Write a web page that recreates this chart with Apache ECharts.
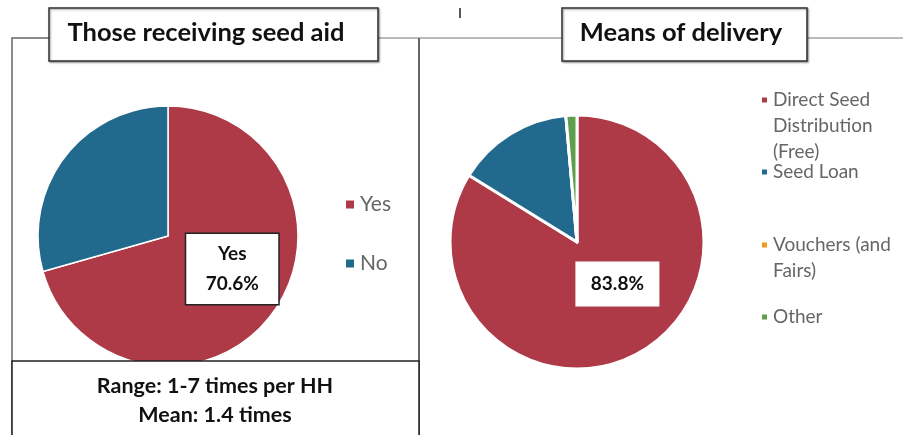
<!DOCTYPE html>
<html>
<head>
<meta charset="utf-8">
<script src="https://cdn.jsdelivr.net/npm/echarts@6/dist/echarts.min.js"></script>
<style>
  html, body { margin: 0; padding: 0; background: #fff; }
  #chart { width: 903px; height: 435px; }
</style>
</head>
<body>
<div id="chart"></div>
<script>
  // data
  const aidNames = ["Yes", "No"];
  const aidValues = [70.6, 29.4];
  const deliveryNames = ["Direct Seed Distribution (Free)", "Seed Loan", "Vouchers (and Fairs)", "Other"];
  const deliveryValues = [83.8, 14.8, 0, 1.4];
  const rangeText = ["Range: 1-7 times per HH", "Mean: 1.4 times"];

  const RED = "#AD3A46";
  const BLUE = "#216A8D";
  const ORANGE = "#F39A1E";
  const GREEN = "#5E9E4E";
  const FONT = "Lato, 'DejaVu Sans', sans-serif";

  const chart = echarts.init(document.getElementById("chart"));

  // legend label lines for the right pie
  const deliveryLabels = {
    "Direct Seed Distribution (Free)": "Direct Seed\nDistribution\n(Free)",
    "Seed Loan": "Seed Loan",
    "Vouchers (and Fairs)": "Vouchers (and\nFairs)",
    "Other": "Other",
  };
  // y of each legend square (centre)
  const rightLegendY = [100, 172, 245, 317];
  const LH = 26;

  // legend text is centred on the square, so pad with blank lines above
  // to keep the square on the first line
  const rightLegends = deliveryNames.map((n, i) => {
    const lines = deliveryLabels[n].split("\n").length;
    const total = lines * 2 - 1;
    return {
      data: [n],
      left: 760,
      top: rightLegendY[i] - (total * LH) / 2,
      icon: "rect",
      itemWidth: 7,
      itemHeight: 7,
      itemGap: 0,
      padding: 0,
      selectedMode: false,
      formatter: (name) => "\n".repeat(lines - 1) + deliveryLabels[name],
      textStyle: {
        fontFamily: FONT,
        fontSize: 19,
        color: "#666",
        lineHeight: LH,
      },
    };
  });

  const graphics = [
    // frame lines
    { type: "polyline", shape: { points: [[12, 440], [12, 38], [49, 38]] }, style: { stroke: "#666", lineWidth: 1.5, fill: null }, z: 50 },
    { type: "line", shape: { x1: 378, y1: 38, x2: 562, y2: 38 }, style: { stroke: "#777", lineWidth: 1 }, z: 50 },
    { type: "line", shape: { x1: 807, y1: 38, x2: 903, y2: 38 }, style: { stroke: "#777", lineWidth: 1 }, z: 50 },
    { type: "line", shape: { x1: 419, y1: 38, x2: 419, y2: 440 }, style: { stroke: "#666", lineWidth: 2 }, z: 50 },
    { type: "line", shape: { x1: 460, y1: 8, x2: 460, y2: 18 }, style: { stroke: "#222", lineWidth: 1.5 }, z: 50 },
    // title boxes
    { type: "rect", shape: { x: 49, y: 8, width: 329, height: 53 }, style: { fill: "#fff", stroke: "#333", lineWidth: 1.5, shadowBlur: 2, shadowOffsetX: 1, shadowOffsetY: 1, shadowColor: "rgba(0,0,0,0.4)" }, z: 60 },
    { type: "text", x: 206, y: 33, style: { text: "Those receiving seed aid", fontFamily: FONT, fontWeight: "bold", fontSize: 25.5, fill: "#111", align: "center", verticalAlign: "middle" }, z: 61 },
    { type: "rect", shape: { x: 562, y: 8, width: 245, height: 53 }, style: { fill: "#fff", stroke: "#333", lineWidth: 1.5, shadowBlur: 2, shadowOffsetX: 1, shadowOffsetY: 1, shadowColor: "rgba(0,0,0,0.4)" }, z: 60 },
    { type: "text", x: 681, y: 33, style: { text: "Means of delivery", fontFamily: FONT, fontWeight: "bold", fontSize: 25.5, fill: "#111", align: "center", verticalAlign: "middle" }, z: 61 },
    // range box at the bottom left
    { type: "rect", shape: { x: 12, y: 361, width: 407, height: 90 }, style: { fill: "#fff", stroke: "#222", lineWidth: 1.5 }, z: 60 },
    { type: "text", x: 215, y: 401, style: { text: rangeText.join("\n"), fontFamily: FONT, fontWeight: "bold", fontSize: 21.5, lineHeight: 29, fill: "#111", align: "center", verticalAlign: "middle" }, z: 61 },
  ];

  const option = {
    animation: false,
    color: [RED, BLUE, ORANGE, GREEN],
    legend: [
      {
        data: aidNames,
        orient: "vertical",
        left: 344,
        top: 194,
        icon: "rect",
        itemWidth: 10,
        itemHeight: 10,
        itemGap: 38,
        padding: 0,
        selectedMode: false,
        textStyle: { fontFamily: FONT, fontSize: 21, color: "#666" },
      },
      ...rightLegends,
    ],
    graphic: graphics,
    series: [
      {
        type: "pie",
        center: [168, 236],
        radius: 130,
        startAngle: 90,
        clockwise: true,
        avoidLabelOverlap: false,
        itemStyle: { borderColor: "#fff", borderWidth: 1.5 },
        emphasis: { disabled: true },
        data: aidNames.map((n, i) => ({
          name: n,
          value: aidValues[i],
          itemStyle: { color: i === 0 ? RED : BLUE },
          label: i === 0 ? {
            show: true,
            position: "inside",
            formatter: (p) => p.name + "\n" + p.value.toFixed(1) + "%",
            fontFamily: FONT,
            fontWeight: "bold",
            fontSize: 19,
            lineHeight: 30,
            color: "#111",
            backgroundColor: "#fff",
            borderColor: "#222",
            borderWidth: 1.5,
            width: 92,
            align: "center",
            padding: [5, 0, 5, 0],
            offset: [10, -8],
          } : { show: false },
          labelLine: { show: false },
        })),
      },
      {
        type: "pie",
        center: [577, 242],
        radius: 127,
        startAngle: 90,
        clockwise: true,
        avoidLabelOverlap: false,
        stillShowZeroSum: false,
        itemStyle: { borderColor: "#fff", borderWidth: 3 },
        emphasis: { disabled: true },
        data: deliveryNames.map((n, i) => ({
          name: n,
          value: deliveryValues[i],
          label: i === 0 ? {
            show: true,
            position: "inside",
            formatter: (p) => p.value.toFixed(1) + "%",
            fontFamily: FONT,
            fontWeight: "bold",
            fontSize: 19,
            color: "#111",
            backgroundColor: "#fff",
            width: 84,
            height: 45,
            align: "center",
            verticalAlign: "middle",
            offset: [8, -16],
          } : { show: false },
          labelLine: { show: false },
        })),
      },
    ],
  };

  chart.setOption(option);
</script>
</body>
</html>
